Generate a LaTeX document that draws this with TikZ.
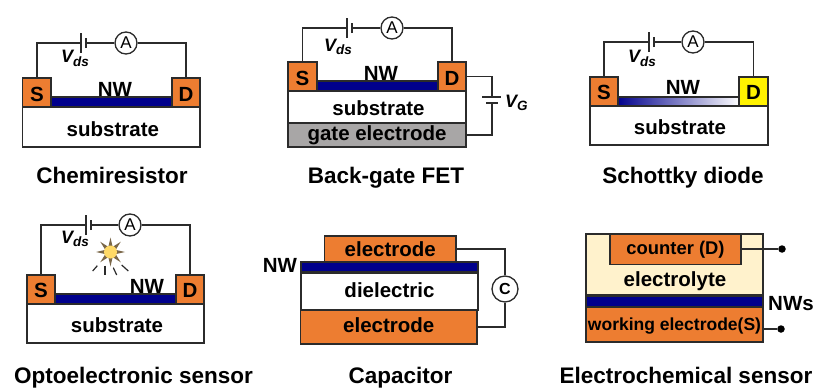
\documentclass[tikz,border=0pt]{standalone}
\usepackage{fontspec}
\setmainfont{Liberation Sans}
\usetikzlibrary{shapes.geometric}
\definecolor{orangeM}{HTML}{ED7D31}
\definecolor{navyNW}{HTML}{00008C}
\definecolor{inkD}{HTML}{2B2B2B}
\definecolor{grayG}{HTML}{A8A6A6}
\definecolor{creamE}{HTML}{FFF2CC}
\definecolor{sunY}{HTML}{FFD966}
\definecolor{sunB}{HTML}{7A6748}
\newcommand\lab{\fontsize{20.5}{24}\selectfont\bfseries}
\newcommand\termlab{\fontsize{17.5}{20}\selectfont\bfseries}
\newcommand\counterlab{\fontsize{18.4}{20}\selectfont\bfseries}
\newcommand\caplab{\fontsize{22.5}{26}\selectfont\bfseries}
\newcommand\metlab{\fontsize{17}{20}\selectfont}
\newcommand\cmetlab{\fontsize{16}{20}\selectfont\bfseries}
\newcommand\vfont{\fontsize{18}{22}\selectfont\bfseries\itshape}
\newcommand\subs[1]{\lower3.5pt\hbox{\fontsize{13.5}{16}\selectfont #1}}
\tikzset{
  wire/.style={draw=inkD,line width=1.3pt},
  plate/.style={draw=inkD,line width=1.6pt},
  blk/.style={draw=inkD,line width=1.3pt,outer sep=0pt,inner sep=0pt,text=black,font=\lab},
  tb/.style={text height=#1 pt,text depth=0pt},
  metal/.style={blk,fill=orangeM},
  blank/.style={blk,fill=white},
  nwbar/.style={blk,fill=navyNW},
  meter/.style={circle,draw=inkD,fill=white,line width=1.3pt,inner sep=0pt,minimum size=22pt,font=\metlab},
  labtext/.style={inner sep=0pt,text=black,font=\lab,anchor=base},
  captext/.style={inner sep=0pt,text=black,font=\caplab,anchor=base},
  vlab/.style={inner sep=0pt,text=black,font=\vfont,anchor=base west},
  termdot/.style={circle,fill=black,inner sep=0pt,minimum size=7.5pt},
  sunray/.style={draw=inkD,line width=1.2pt}
}
% \layer{name}{x1}{y1}{x2}{y2}{style}{text}
\newcommand\layer[7]{\node[#6,minimum width={(#4)-(#2)},minimum height={(#5)-(#3)}] (#1) at ({((#2)+(#4))/2},{((#3)+(#5))/2}) {#7};}
% \circuit{prefix}{top y}{battery x}{meter x}{Vds position}
\newcommand\circuit[5]{%
  \coordinate (#1bl) at (#3,#2);
  \coordinate (#1bs) at (#3+5,#2);
  \node[meter] (#1A) at (#4,#2) {A};
  \draw[wire] (#1S.north) |- (#1bl);
  \draw[wire] (#1bs) -- (#1A);
  \draw[wire] (#1A) -| (#1D.north);
  \draw[plate] ([yshift=-10pt]#1bl) -- ([yshift=10pt]#1bl);
  \draw[plate] ([yshift=-5pt]#1bs) -- ([yshift=5pt]#1bs);
  \node[vlab] (#1V) at (#5) {V\subs{ds}};
}
\begin{document}
\begin{tikzpicture}[x=1pt,y=-1pt]
\useasboundingbox (0,0) rectangle (815,388);

% Chemiresistor
\layer{aB}{22.7}{107}{200}{147}{blank,tb=18}{\hspace{3pt}substrate}
\layer{aN}{50}{97}{173}{107}{nwbar}{}
\layer{aS}{22.7}{78}{51}{107}{metal,tb=17}{S}
\layer{aD}{172}{78}{200}{107}{metal,tb=17}{D}
\node[labtext] (aW) at (115,96.5) {NW};
\circuit{a}{43}{81}{126}{61,63}
\node[captext] (aC) at (112,183) {Chemiresistor};

% Back-gate FET
\layer{bG}{288}{123}{466}{147}{blk,fill=grayG,tb=11.4}{gate electrode}
\layer{bB}{288}{91}{466}{123}{blank,tb=16}{\hspace{3pt}substrate}
\layer{bN}{316}{81}{439}{91}{nwbar}{}
\layer{bS}{288}{62}{317}{91}{metal,tb=17}{S}
\layer{bD}{438}{62}{466}{91}{metal,tb=17}{D}
\node[labtext] (bW) at (381,80) {NW};
\circuit{b}{28}{347}{392}{324,51}
\coordinate (bgl) at (492,97);
\coordinate (bgs) at (492,103);
\draw[wire] (bD.east) -| (bgl);
\draw[wire] (bG.east) -| (bgs);
\draw[plate] ([xshift=-10pt]bgl) -- ([xshift=9pt]bgl);
\draw[plate] ([xshift=-6pt]bgs) -- ([xshift=6pt]bgs);
\node[vlab] (bV) at (505,107) {V\subs{G}};
\node[captext] (bC) at (386,183) {Back-gate FET};

% Schottky diode
\layer{cB}{590}{106}{768}{145}{blank,tb=17.6}{\hspace{2pt}substrate}
\layer{cN}{617}{97}{740}{106}{blk,left color=navyNW,middle color=navyNW!82!white,right color=white}{}
\layer{cS}{590}{77}{618}{106}{metal,tb=16}{S}
\layer{cD}{739}{77}{768}{106}{blk,fill=yellow,tb=16}{D}
\node[labtext] (cW) at (683,94.5) {NW};
\circuit{c}{42}{649}{693}{628,63}
\node[captext] (cC) at (683,183) {Schottky diode};

% Optoelectronic sensor
\layer{dB}{27}{304}{204}{343}{blank,tb=17.6}{\hspace{3pt}substrate}
\layer{dN}{54}{294}{177}{304}{nwbar}{}
\layer{dS}{27}{275}{55}{304}{metal,tb=15}{S}
\layer{dD}{176}{275}{204}{304}{metal,tb=15}{D}
\node[labtext] (dW) at (147,293.5) {NW};
\circuit{d}{225}{86}{130}{61,243}
\node[star,star points=8,star point ratio=2.6,fill=sunB,inner sep=0pt,minimum size=29pt] (dStar) at (110.5,252) {};
\node[circle,fill=sunY,inner sep=0pt,minimum size=13pt] (dSun) at (110.5,252) {};
\draw[sunray] (92.7,271) -- (97.3,265.7);
\draw[sunray] (105,265.7) -- (105,275);
\draw[sunray] (113.3,267.7) -- (116.7,275);
\draw[sunray] (121.7,265) -- (128.3,271);
\node[captext] (dC) at (133.5,383) {Optoelectronic sensor};

% Capacitor
\layer{eD}{301}{273}{478}{310}{blank,tb=11.6}{dielectric}
\layer{eT}{324.5}{236}{456}{262}{metal,tb=14}{electrode}
\layer{eN}{300.5}{262}{478}{272}{nwbar,line width=2pt}{}
\layer{eE}{300.5}{310}{477}{344}{metal,tb=10.6}{electrode}
\node[labtext] (eW) at (280,272.5) {NW};
\node[meter,minimum size=26pt,font=\cmetlab] (eM) at (505,289) {C};
\draw[wire] (eT.east) -| (eM.north);
\draw[wire] (eE.east) -| (eM.south);
\node[captext] (eC) at (400.5,383) {Capacitor};

% Electrochemical sensor
\layer{fL}{586}{234}{763}{295}{blk,fill=creamE}{}
\layer{fT}{610}{234}{741}{264.5}{metal,font=\counterlab,tb=10}{counter (D)}
\node[labtext] (fE) at (675,286.5) {electrolyte};
\layer{fN}{586}{296}{763}{307}{nwbar,line width=2pt}{}
\layer{fB}{586}{307}{763}{342}{metal,font=\termlab,tb=12.4}{working electrode(S)}
\node[labtext] (fW) at (791,310.5) {NWs};
\node[termdot] (fP) at (782,249) {};
\node[termdot] (fQ) at (781,329) {};
\draw[wire] (fT.east |- fP) -- (fP);
\draw[wire] (fB.east |- fQ) -- (fQ);
\node[captext] (fC) at (686,383) {Electrochemical sensor};
\end{tikzpicture}
\end{document}
